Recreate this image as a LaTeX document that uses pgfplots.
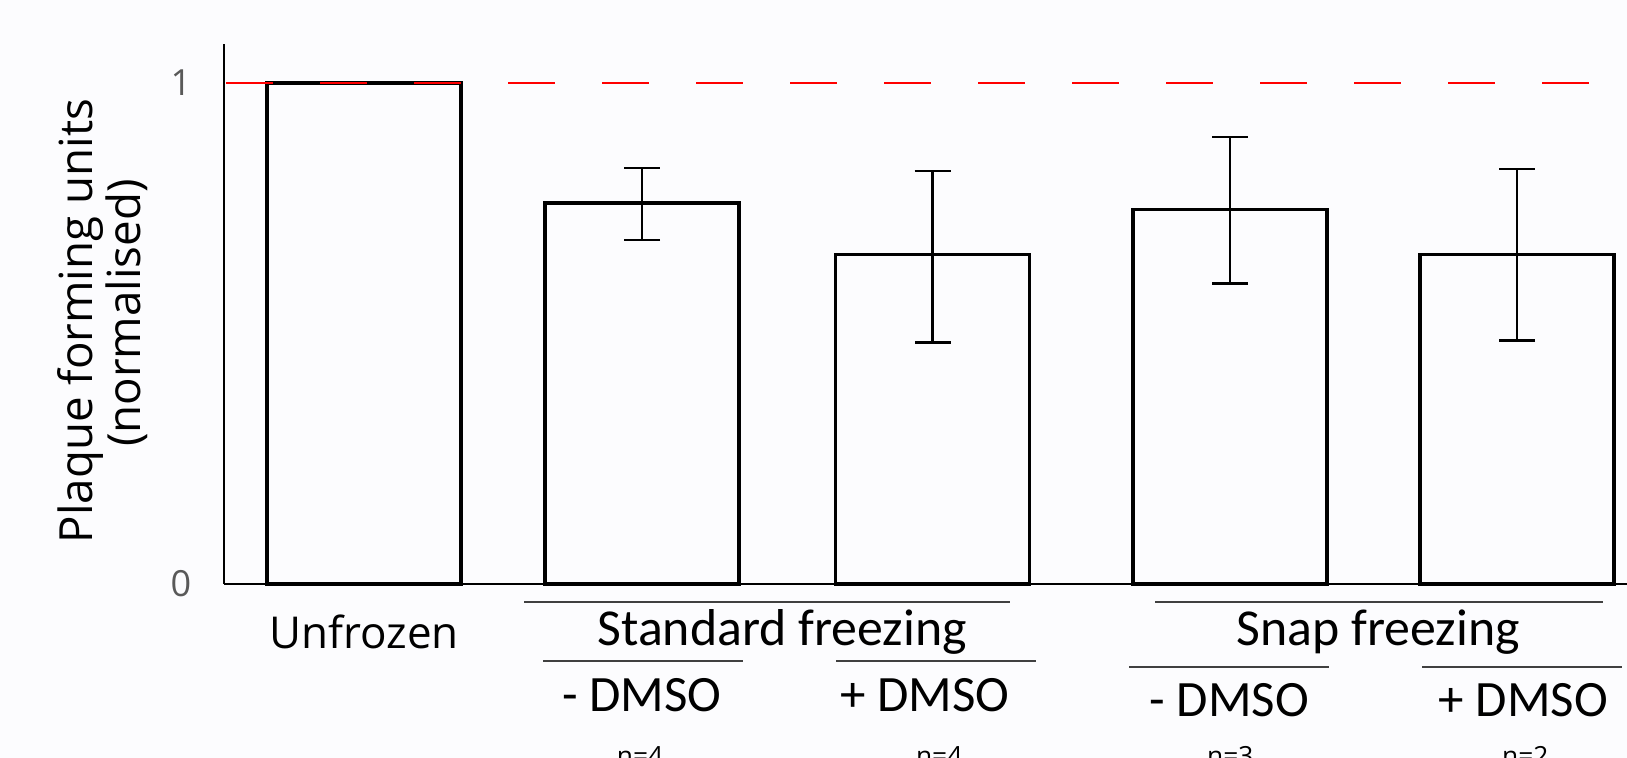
\documentclass[border=0pt]{standalone}
\usepackage{fontspec}
\setmainfont{Open Sans}
\newfontfamily\carlito{Carlito}
\usepackage{pgfplots}
\pgfplotsset{compat=1.18}
\usepackage{pgfplotstable}
\definecolor{bg}{RGB}{252,252,254}
\definecolor{tickgray}{RGB}{89,89,89}

\pgfplotstableread{
x y ep em
3.64 1.000 0 0
6.42 0.760 0.070 0.073
9.325 0.658 0.166 0.176
12.30 0.747 0.145 0.147
15.17 0.658 0.170 0.172
}\bars

\begin{document}
\begin{tikzpicture}
\path[use as bounding box, fill=bg] (0,0) rectangle (32.54cm,15.16cm);
\begin{axis}[
  at={(4.48cm,3.48cm)}, anchor=south west,
  scale only axis, width=28.06cm, height=10.8cm,
  xmin=2.24, xmax=16.27, ymin=0, ymax=1.0778,
  axis lines*=left,
  axis line style={line width=1.5pt, black},
  xtick=\empty, ytick={0,1},
  major tick length=0pt,
  /pgf/number format/assume math mode=true,
  yticklabel style={font=\fontsize{20.5}{24}\selectfont, text=tickgray, anchor=center, xshift=-0.86cm},
  clip=false,
]
\addplot[ybar, bar shift=0, bar width=1.94, draw=black, line width=2pt, fill=bg,
  error bars/.cd, y dir=both, y explicit,
  error bar style={line width=1.3pt, black},
  error mark options={rotate=90, mark size=0.36cm, line width=1.3pt, black}]
  table[x=x, y=y, y error plus=ep, y error minus=em]{\bars};
\addplot[red, line width=1.1pt, dash pattern=on 0.94cm off 0.94cm, dash phase=1.84cm] coordinates {(2.24,1) (16.27,1)};
\end{axis}
\begin{scope}[x=0.02cm, y=-0.02cm, yshift=15.16cm]
\node[anchor=base, rotate=90, inner sep=0, font=\fontsize{26}{30}\selectfont] at (92,321) {Plaque forming units};
\node[anchor=base, rotate=90, inner sep=0, font=\fontsize{26}{30}\selectfont] at (140,313) {(normalised)};
\node[anchor=base, inner sep=0, font=\fontsize{25}{30}\selectfont] at (364,648) {Unfrozen};
\node[anchor=base, inner sep=0, font=\carlito\fontsize{29.5}{34}\selectfont] at (782,645) {Standard freezing};
\node[anchor=base, inner sep=0, font=\carlito\fontsize{29.5}{34}\selectfont] at (1378,645) {Snap freezing};
\node[anchor=base, inner sep=0, font=\carlito\fontsize{29}{34}\selectfont] at (642,711) {- DMSO};
\node[anchor=base, inner sep=0, font=\carlito\fontsize{29}{34}\selectfont] at (925,711) {+ DMSO};
\node[anchor=base, inner sep=0, font=\carlito\fontsize{29}{34}\selectfont] at (1229,716) {- DMSO};
\node[anchor=base, inner sep=0, font=\carlito\fontsize{29}{34}\selectfont] at (1523,716) {+ DMSO};
\node[anchor=base, inner sep=0, font=\fontsize{15}{18}\selectfont] at (640,765) {n=4};
\node[anchor=base, inner sep=0, font=\fontsize{15}{18}\selectfont] at (939,765) {n=4};
\node[anchor=base, inner sep=0, font=\fontsize{15}{18}\selectfont] at (1230,765) {n=3};
\node[anchor=base, inner sep=0, font=\fontsize{15}{18}\selectfont] at (1525,765) {n=2};
\draw[black!75, line width=0.8pt] (524,602) -- (1010,602);
\draw[black!75, line width=0.8pt] (1155,602) -- (1603,602);
\draw[black!75, line width=0.8pt] (543,661) -- (743,661);
\draw[black!75, line width=0.8pt] (836,661) -- (1036,661);
\draw[black!75, line width=0.8pt] (1129,667) -- (1329,667);
\draw[black!75, line width=0.8pt] (1422,667) -- (1622,667);
\end{scope}
\end{tikzpicture}
\end{document}
